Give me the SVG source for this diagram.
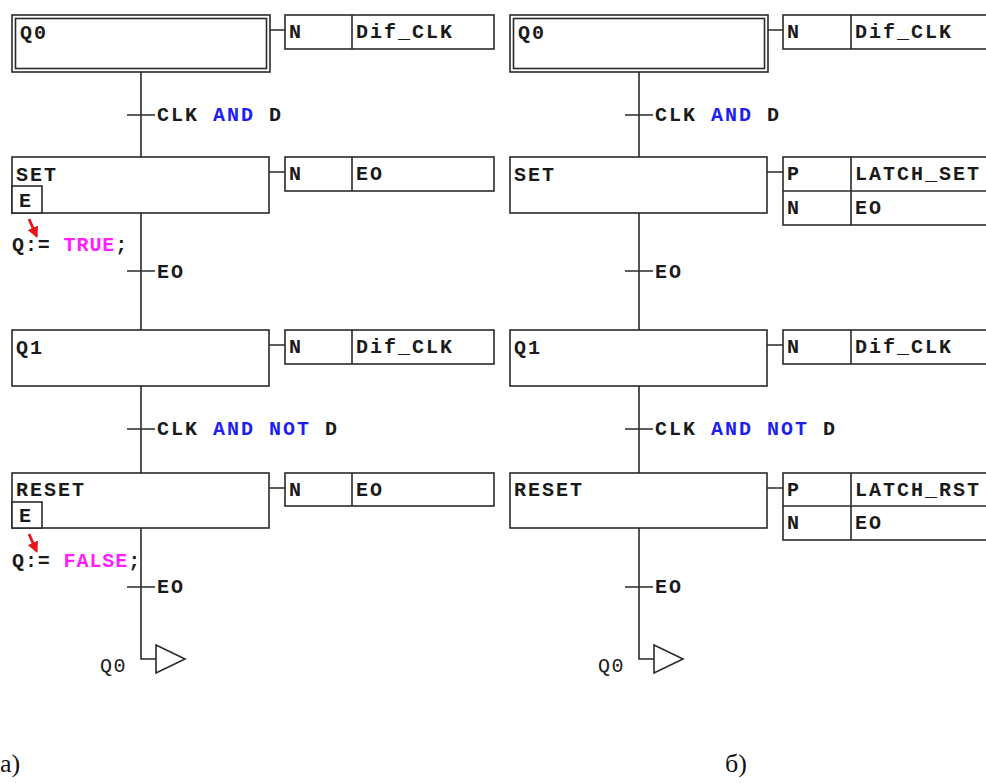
<svg xmlns="http://www.w3.org/2000/svg" width="986" height="783" viewBox="0 0 986 783">
<defs>
<style>
.b{fill:#fff;stroke:#2a2a2a;stroke-width:1.6}
.l{fill:none;stroke:#2a2a2a;stroke-width:1.6}
.t{font-family:"Liberation Mono","Courier New",monospace;font-weight:bold;font-size:20px;letter-spacing:2px;fill:#1a1a1a}
.q{font-family:"Liberation Mono","Courier New",monospace;font-size:20px;letter-spacing:1.5px;fill:#1a1a1a}
.kw{fill:#1e1ef0}
.lit{fill:#ff1eff}
.cap{font-family:"Liberation Serif","Times New Roman",serif;font-size:26px;fill:#111}
.ar{fill:none;stroke:#e8141c;stroke-width:2.8}
</style>
<marker id="rh" viewBox="0 0 10 10" refX="8" refY="5" markerWidth="4" markerHeight="4" orient="auto">
<path d="M0,0 L10,5 L0,10 z" fill="#e8141c"/>
</marker>
</defs>

<g id="connectors">
<path class="l" d="M141,72 V157 M127,115 H155"/>
<path class="l" d="M141,213 V330 M127,271 H155"/>
<path class="l" d="M141,386 V473 M127,429 H155"/>
<path class="l" d="M141,528 V659 H156 M127,587 H155"/>
<path class="l" d="M270,30 H285 M269,172 H285 M269,345 H285 M269,488 H285"/>
<path class="l" d="M639,72 V157 M625,115 H653"/>
<path class="l" d="M639,213 V330 M625,271 H653"/>
<path class="l" d="M639,386 V473 M625,429 H653"/>
<path class="l" d="M639,528 V659 H654 M625,587 H653"/>
<path class="l" d="M768,30 H783 M767,172 H783 M767,345 H783 M767,488 H783"/>
</g>

<g id="a_Q0">
<rect class="b" x="12" y="15" width="258" height="57"/>
<rect class="b" x="15.5" y="18.5" width="251" height="50"/>
<text class="t" x="20" y="39">Q0</text>
</g>
<g id="a_Q0_action">
<rect class="b" x="285" y="15" width="209" height="34"/>
<path class="l" d="M352,15 V49"/>
<text class="t" x="289" y="38">N</text>
<text class="t" x="356" y="38">Dif_CLK</text>
</g>
<g id="a_T1"><text class="t" x="157" y="121">CLK <tspan class="kw">AND</tspan> D</text></g>
<g id="a_SET">
<rect class="b" x="12" y="157" width="257" height="56"/>
<rect class="b" x="12" y="186" width="30" height="27"/>
<text class="t" x="16" y="181">SET</text>
<text class="t" x="19" y="207">E</text>
<path class="ar" d="M29,219 L36.5,236" marker-end="url(#rh)"/>
<text class="t" x="12" y="251" style="letter-spacing:0.9px">Q:= <tspan class="lit">TRUE</tspan>;</text>
</g>
<g id="a_SET_action">
<rect class="b" x="285" y="157" width="209" height="34"/>
<path class="l" d="M352,157 V191"/>
<text class="t" x="289" y="180">N</text>
<text class="t" x="356" y="180">EO</text>
</g>
<g id="a_T2"><text class="t" x="157" y="278">EO</text></g>
<g id="a_Q1">
<rect class="b" x="12" y="330" width="257" height="56"/>
<text class="t" x="16" y="354">Q1</text>
</g>
<g id="a_Q1_action">
<rect class="b" x="285" y="330" width="209" height="34"/>
<path class="l" d="M352,330 V364"/>
<text class="t" x="289" y="353">N</text>
<text class="t" x="356" y="353">Dif_CLK</text>
</g>
<g id="a_T3"><text class="t" x="157" y="435">CLK <tspan class="kw">AND</tspan> <tspan class="kw">NOT</tspan> D</text></g>
<g id="a_RESET">
<rect class="b" x="12" y="473" width="257" height="55"/>
<rect class="b" x="12" y="502" width="30" height="26"/>
<text class="t" x="16" y="496">RESET</text>
<text class="t" x="19" y="522">E</text>
<path class="ar" d="M29,534 L36.5,551" marker-end="url(#rh)"/>
<text class="t" x="12" y="567" style="letter-spacing:0.9px">Q:= <tspan class="lit">FALSE</tspan>;</text>
</g>
<g id="a_RESET_action">
<rect class="b" x="285" y="473" width="209" height="33"/>
<path class="l" d="M352,473 V506"/>
<text class="t" x="289" y="496">N</text>
<text class="t" x="356" y="496">EO</text>
</g>
<g id="a_T4"><text class="t" x="157" y="593">EO</text></g>
<g id="a_jump">
<path class="b" d="M156,645 L185,659 L156,673 Z"/>
<text class="q" x="100" y="672">Q0</text>
</g>
<text class="cap" x="0" y="772">a)</text>

<g id="b_Q0">
<rect class="b" x="510" y="15" width="258" height="57"/>
<rect class="b" x="513.5" y="18.5" width="251" height="50"/>
<text class="t" x="518" y="39">Q0</text>
</g>
<g id="b_Q0_action">
<rect class="b" x="783" y="15" width="220" height="34"/>
<path class="l" d="M851,15 V49"/>
<text class="t" x="787" y="38">N</text>
<text class="t" x="855" y="38">Dif_CLK</text>
</g>
<g id="b_T1"><text class="t" x="655" y="121">CLK <tspan class="kw">AND</tspan> D</text></g>
<g id="b_SET">
<rect class="b" x="510" y="157" width="257" height="56"/>
<text class="t" x="514" y="181">SET</text>
</g>
<g id="b_SET_action">
<rect class="b" x="783" y="157" width="220" height="68"/>
<path class="l" d="M851,157 V225 M783,191 H1003"/>
<text class="t" x="787" y="180">P</text>
<text class="t" x="855" y="180">LATCH_SET</text>
<text class="t" x="787" y="214">N</text>
<text class="t" x="855" y="214">EO</text>
</g>
<g id="b_T2"><text class="t" x="655" y="278">EO</text></g>
<g id="b_Q1">
<rect class="b" x="510" y="330" width="257" height="56"/>
<text class="t" x="514" y="354">Q1</text>
</g>
<g id="b_Q1_action">
<rect class="b" x="783" y="330" width="220" height="34"/>
<path class="l" d="M851,330 V364"/>
<text class="t" x="787" y="353">N</text>
<text class="t" x="855" y="353">Dif_CLK</text>
</g>
<g id="b_T3"><text class="t" x="655" y="435">CLK <tspan class="kw">AND</tspan> <tspan class="kw">NOT</tspan> D</text></g>
<g id="b_RESET">
<rect class="b" x="510" y="473" width="257" height="55"/>
<text class="t" x="514" y="496">RESET</text>
</g>
<g id="b_RESET_action">
<rect class="b" x="783" y="473" width="220" height="67"/>
<path class="l" d="M851,473 V540 M783,506 H1003"/>
<text class="t" x="787" y="496">P</text>
<text class="t" x="855" y="496">LATCH_RST</text>
<text class="t" x="787" y="529">N</text>
<text class="t" x="855" y="529">EO</text>
</g>
<g id="b_T4"><text class="t" x="655" y="593">EO</text></g>
<g id="b_jump">
<path class="b" d="M654,645 L683,659 L654,673 Z"/>
<text class="q" x="598" y="672">Q0</text>
</g>
<text class="cap" x="725" y="772">б)</text>
</svg>
